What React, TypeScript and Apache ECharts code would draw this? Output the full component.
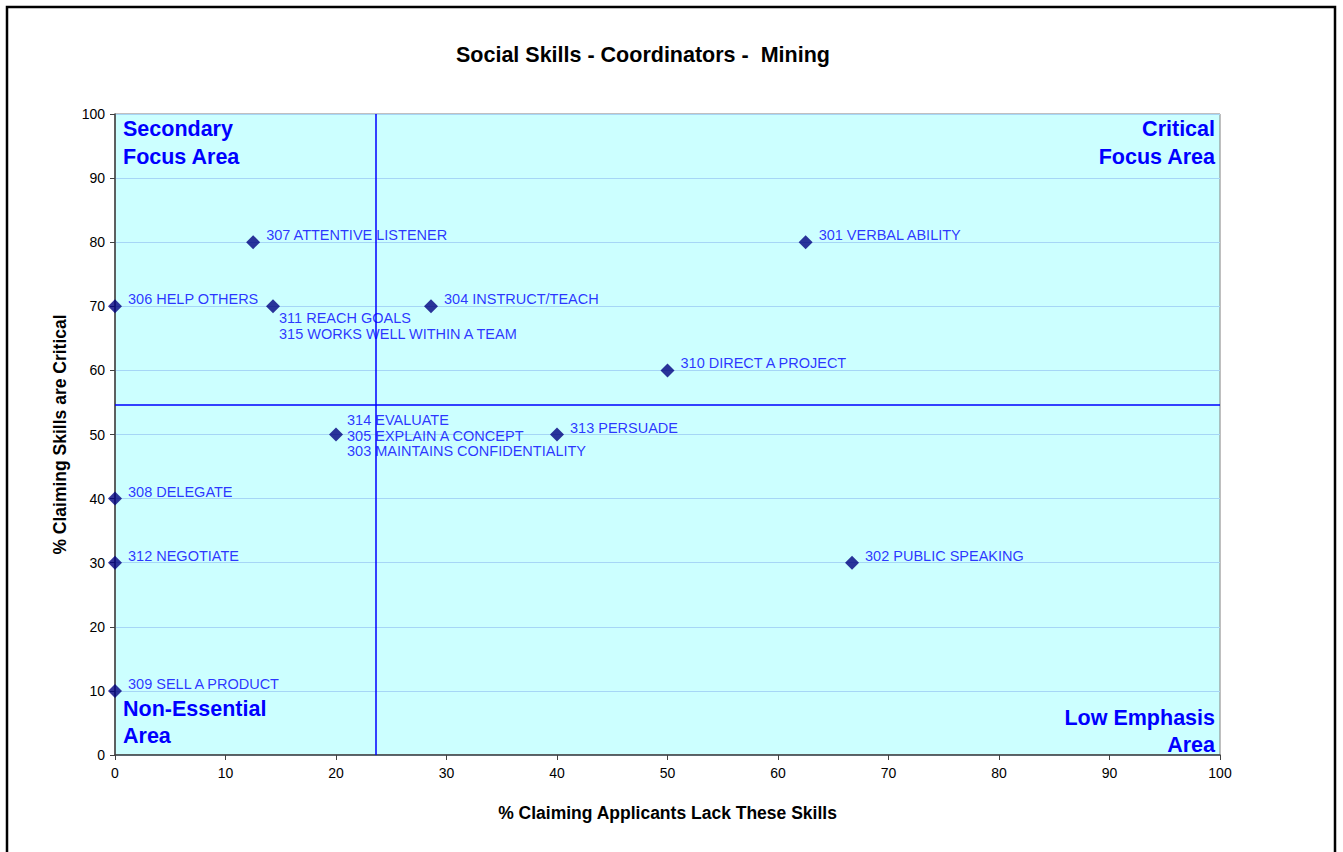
import React, { useEffect, useRef } from "react";
import * as echarts from "echarts";

const chartTitle = "Social Skills - Coordinators -  Mining";
const xAxisName = "% Claiming Applicants Lack These Skills";
const yAxisName = "% Claiming Skills are Critical";

const skillNames = [
  "301 VERBAL ABILITY",
  "302 PUBLIC SPEAKING",
  "303 MAINTAINS CONFIDENTIALITY",
  "304 INSTRUCT/TEACH",
  "305 EXPLAIN A CONCEPT",
  "306 HELP OTHERS",
  "307 ATTENTIVE LISTENER",
  "308 DELEGATE",
  "309 SELL A PRODUCT",
  "310 DIRECT A PROJECT",
  "311 REACH GOALS",
  "312 NEGOTIATE",
  "313 PERSUADE",
  "314 EVALUATE",
  "315 WORKS WELL WITHIN A TEAM",
];
const lackValues = [62.5, 66.7, 20, 28.6, 20, 0, 12.5, 0, 0, 50, 14.3, 0, 40, 20, 14.3];
const criticalValues = [80, 30, 50, 70, 50, 70, 80, 40, 10, 60, 70, 30, 50, 50, 70];

// order of names in stacked labels for coincident points
const stackOrder = ["314", "305", "303", "311", "315"];

const xDivider = 23.6;
const yDivider = 54.6;

const xTicks = { min: 0, max: 100, interval: 10 };
const yTicks = { min: 0, max: 100, interval: 10 };

const quadrantLabels = {
  topLeft: "Secondary\nFocus Area",
  topRight: "Critical\nFocus Area",
  bottomLeft: "Non-Essential\nArea",
  bottomRight: "Low Emphasis\nArea",
};

export default function App() {
  const ref = useRef<HTMLDivElement>(null);
  useEffect(() => {
    if (!ref.current) return;
    const chart = echarts.init(ref.current, null, { renderer: "svg" });

    // group coincident points
    const groups: { x: number; y: number; names: string[] }[] = [];
    skillNames.forEach((n, i) => {
      const g = groups.find((gg) => gg.x === lackValues[i] && gg.y === criticalValues[i]);
      if (g) g.names.push(n);
      else groups.push({ x: lackValues[i], y: criticalValues[i], names: [n] });
    });
    groups.forEach((g) => {
      g.names.sort((a, b) => {
        const ia = stackOrder.indexOf(a.slice(0, 3));
        const ib = stackOrder.indexOf(b.slice(0, 3));
        return ia - ib;
      });
    });

    const font = "Arial, 'Liberation Sans', sans-serif";
    const labelColor = "#0000FF";

    const data = groups.map((g) => {
      let label: any = {
        show: true,
        position: "right",
        formatter: g.names.join("\n"),
        color: labelColor,
        fontFamily: font,
        fontSize: 14.5,
        lineHeight: 15.5,
        offset: [1, -7],
      };
      if (g.names.length === 2) {
        label = { ...label, verticalAlign: "top", offset: [-6, 4] };
      } else if (g.names.length === 3) {
        label = { ...label, offset: [-1, 1] };
      }
      return { value: [g.x, g.y], label };
    });

    const quadFont = `bold 21.5px ${font}`;

    const option: any = {
      animation: false,
      backgroundColor: "#ffffff",
      title: {
        text: chartTitle,
        left: 451,
        top: 39,
        textStyle: { fontFamily: font, fontSize: 21.5, fontWeight: "bold", color: "#000" },
      },
      grid: {
        left: 115,
        top: 114,
        right: 123,
        bottom: 97,
        show: true,
        backgroundColor: "#CCFFFF",
        borderColor: "#808080",
        borderWidth: 1,
      },
      xAxis: {
        type: "value",
        min: xTicks.min,
        max: xTicks.max,
        interval: xTicks.interval,
        name: xAxisName,
        nameLocation: "middle",
        nameGap: 49,
        nameTextStyle: { fontFamily: font, fontSize: 17.5, fontWeight: "bold", color: "#000" },
        axisLine: { show: true, onZero: false, lineStyle: { color: "#404040", width: 1.5 } },
        axisTick: { show: true, inside: false, length: 5, lineStyle: { color: "#404040" } },
        axisLabel: { fontFamily: font, fontSize: 14, color: "#000", margin: 11 },
        splitLine: { show: false },
      },
      yAxis: {
        type: "value",
        min: yTicks.min,
        max: yTicks.max,
        interval: yTicks.interval,
        name: yAxisName,
        nameLocation: "middle",
        nameGap: 46,
        nameTextStyle: { fontFamily: font, fontSize: 17.5, fontWeight: "bold", color: "#000" },
        axisLine: { show: true, onZero: false, lineStyle: { color: "#404040", width: 1.5 } },
        axisTick: { show: true, inside: false, length: 5, lineStyle: { color: "#404040" } },
        axisLabel: { fontFamily: font, fontSize: 14, color: "#000", margin: 10 },
        splitLine: { show: true, lineStyle: { color: "#a6d6f6", width: 1 } },
      },
      series: [
        {
          type: "scatter",
          symbol: "diamond",
          symbolSize: 14,
          itemStyle: { color: "#000080" },
          data,
          z: 5,
          markLine: {
            silent: true,
            symbol: "none",
            label: { show: false },
            lineStyle: { color: "#0000FF", width: 1.5, type: "solid" },
            data: [{ xAxis: xDivider }, { yAxis: yDivider }],
          },
        },
      ],
      graphic: [
        {
          type: "rect",
          shape: { x: 7, y: 7, width: 1328, height: 900 },
          style: { fill: "none", stroke: "#000", lineWidth: 2.5 },
          silent: true,
        },
        {
          type: "text",
          x: 123,
          y: 115,
          style: { text: quadrantLabels.topLeft, font: quadFont, fill: "#0000FF", lineHeight: 28, align: "left" },
        },
        {
          type: "text",
          x: 1215,
          y: 115,
          style: { text: quadrantLabels.topRight, font: quadFont, fill: "#0000FF", lineHeight: 28, align: "right" },
        },
        {
          type: "text",
          x: 123,
          y: 695,
          style: { text: quadrantLabels.bottomLeft, font: quadFont, fill: "#0000FF", lineHeight: 27, align: "left" },
        },
        {
          type: "text",
          x: 1215,
          y: 704,
          style: { text: quadrantLabels.bottomRight, font: quadFont, fill: "#0000FF", lineHeight: 27, align: "right" },
        },
      ],
    };
    chart.setOption(option);
    return () => chart.dispose();
  }, []);
  return (
    <div
      ref={ref}
      style={{ position: "absolute", left: 0, top: 0, width: 1343, height: 852 }}
    />
  );
}
